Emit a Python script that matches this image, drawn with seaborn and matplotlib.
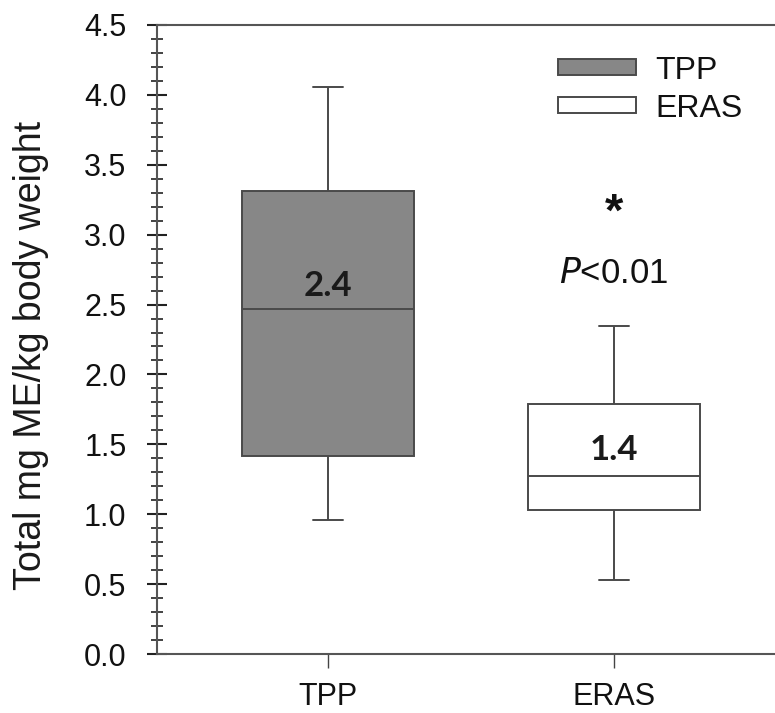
import numpy as np
import pandas as pd
import seaborn as sns
import matplotlib
matplotlib.use("Agg")
import matplotlib.pyplot as plt
from matplotlib.patches import Patch
from matplotlib.ticker import MultipleLocator

# Data: five-number summaries (min, Q1, median, Q3, max)
groups = ["TPP", "ERAS"]
tpp_stats = [0.96, 1.42, 2.47, 3.31, 4.06]
eras_stats = [0.53, 1.03, 1.27, 1.79, 2.35]
box_labels = ["2.4", "1.4"]
label_y = [2.63, 1.46]
fills = ["#878787", "#ffffff"]

df = pd.DataFrame({
    "group": ["TPP"] * len(tpp_stats) + ["ERAS"] * len(eras_stats),
    "value": tpp_stats + eras_stats,
})

sns.set_style("white")
plt.rcParams["font.family"] = ["Liberation Sans", "DejaVu Sans"]

fig = plt.figure(figsize=(7.75, 7.13), dpi=100)
ax = fig.add_axes([157 / 775, (713 - 654) / 713, 1 - 157 / 775, (654 - 25) / 713])

sns.boxplot(data=df, x="group", y="value", hue="group", order=groups, hue_order=groups,
            palette=dict(zip(groups, fills)), whis=(0, 100), width=0.6, dodge=False,
            legend=False, ax=ax, linewidth=1.4, linecolor="#4a4a4a",
            capprops=dict(color="#4a4a4a"), whiskerprops=dict(color="#4a4a4a"),
            medianprops=dict(color="#4a4a4a", linewidth=1.4), showfliers=False)
# narrow caps
for line in ax.lines:
    xd = line.get_xdata()
    yd = line.get_ydata()
    if len(xd) == 2 and yd[0] == yd[1] and abs(xd[1] - xd[0]) > 0.2 and abs(xd[1]-xd[0]) < 0.35:
        c = (xd[0] + xd[1]) / 2
        line.set_xdata([c - 0.053, c + 0.053])

ax.set_ylim(0, 4.5)
ax.set_xlim(-0.598, 1.563)
ax.yaxis.set_major_locator(MultipleLocator(0.5))
ax.yaxis.set_minor_locator(MultipleLocator(0.1))
ax.yaxis.set_major_formatter(matplotlib.ticker.FormatStrFormatter("%.1f"))
ax.tick_params(axis="y", which="major", direction="inout", length=14, width=1.5,
               labelsize=22, pad=15, left=True, color="#222222", labelcolor="#111111")
ax.tick_params(axis="y", which="minor", direction="inout", length=8, width=1.2,
               left=True, color="#222222")
ax.tick_params(axis="x", which="major", direction="out", length=10, width=1.0,
               labelsize=22, pad=10, bottom=True, color="#444444", labelcolor="#111111")
ax.set_xlabel("")
ax.set_ylabel("Total mg ME/kg body weight", fontsize=27, color="#1a1a1a")
ax.yaxis.label.set_va("center")
ax.yaxis.set_label_coords((31 - 157) / 618, (654 - 355) / 629)

for s in ["left", "bottom", "top"]:
    ax.spines[s].set_visible(True)
    ax.spines[s].set_color("#555555")
    ax.spines[s].set_linewidth(1.5)
ax.spines["right"].set_visible(False)

for i, (t, y) in enumerate(zip(box_labels, label_y)):
    ax.text(i, y, t, ha="center", va="center", fontsize=25, family=["Lato", "DejaVu Sans"],
            fontweight="bold", color="#1a1a1a")

ax.text(1, 3.15, "*", ha="center", va="center", fontsize=34, fontweight="bold", color="#111111")
ax.text(1, 2.72, r"$\it{P}$<0.01", ha="center", va="center", fontsize=25, color="#111111")

handles = [Patch(facecolor=fills[0], edgecolor="#4a4a4a", linewidth=1.4, label="TPP"),
           Patch(facecolor=fills[1], edgecolor="#4a4a4a", linewidth=1.4, label="ERAS")]
leg = ax.legend(handles=handles, loc="upper left", bbox_to_anchor=(0.602, 0.997),
                frameon=False, fontsize=23, handlelength=2.44, handleheight=0.41,
                handletextpad=0.6, labelspacing=0.25)
for t in leg.get_texts():
    t.set_color("#111111")

fig.savefig("out.png", dpi=100)
